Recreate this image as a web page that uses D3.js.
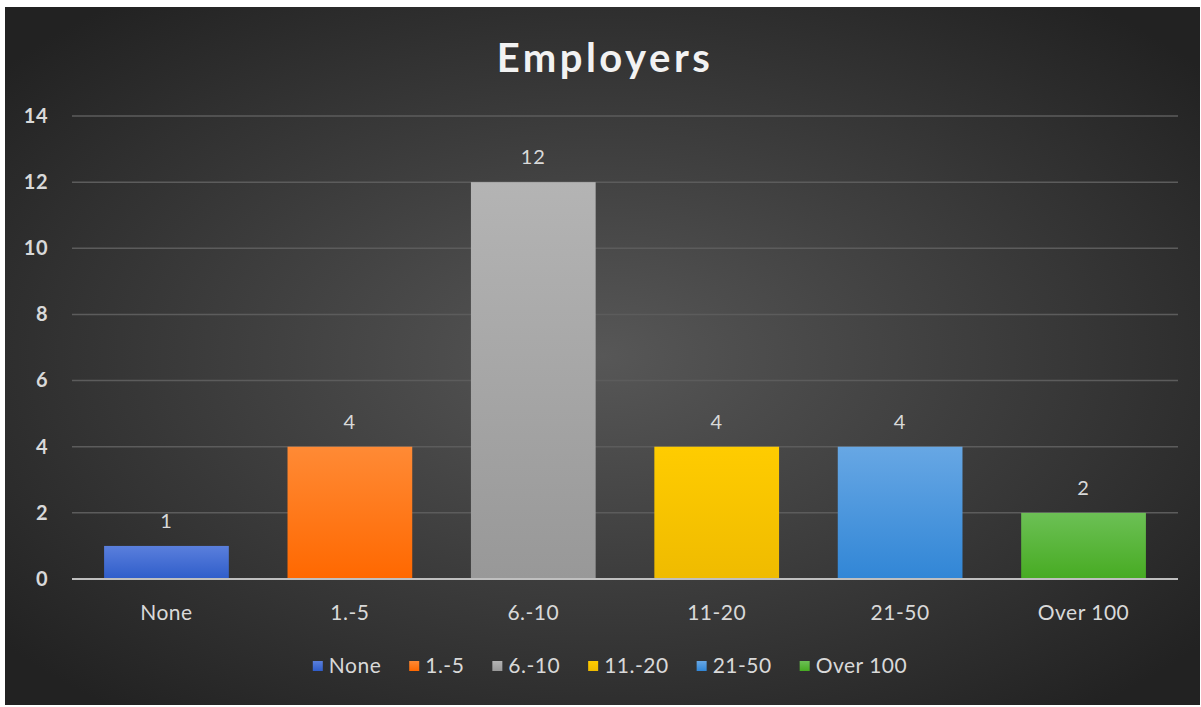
<!DOCTYPE html>
<html>
<head>
<meta charset="utf-8">
<script src="https://cdn.jsdelivr.net/npm/d3@7"></script>
<style>
  html, body { margin: 0; padding: 0; background: #ffffff; }
  svg { display: block; }
</style>
</head>
<body>
<svg id="chart" width="1201" height="707"></svg>
<script>
// values
const categories = ['None', '1.-5', '6.-10', '11.-20', '21-50', 'Over 100'];
const axisLabels = ['None', '1.-5', '6.-10', '11-20', '21-50', 'Over 100'];
const counts = [1, 4, 12, 4, 4, 2];
const yTicks = [0, 2, 4, 6, 8, 10, 12, 14];
const colorTop = ['#5a7fdc', '#ff8a35', '#b4b4b4', '#ffcc00', '#67a7e4', '#6cc055'];
const colorBottom = ['#2f5dca', '#ff6800', '#989898', '#efbb00', '#3186d6', '#47ab22'];

const svg = d3.select('#chart');
const width = +svg.attr('width');
const height = +svg.attr('height');
const margin = { top: 116, right: 23, bottom: 128, left: 72 };
const font = 'Lato, "Open Sans", sans-serif';

const defs = svg.append('defs');

// dark radial background
const bg = defs.append('radialGradient')
    .attr('id', 'bg')
    .attr('cx', '50%').attr('cy', '50%').attr('r', '65%');
bg.append('stop').attr('offset', '0%').attr('stop-color', '#575757');
bg.append('stop').attr('offset', '100%').attr('stop-color', '#222222');

svg.append('rect')
    .attr('x', 5).attr('y', 7)
    .attr('width', width - 6).attr('height', height - 9)
    .attr('fill', 'url(#bg)');

categories.forEach((c, i) => {
    const g = defs.append('linearGradient')
        .attr('id', 'bar' + i)
        .attr('x1', 0).attr('y1', 0).attr('x2', 0).attr('y2', 1);
    g.append('stop').attr('offset', '0%').attr('stop-color', colorTop[i]);
    g.append('stop').attr('offset', '100%').attr('stop-color', colorBottom[i]);
});

const x = d3.scaleBand()
    .domain(categories)
    .range([margin.left, width - margin.right])
    .paddingInner(0.32)
    .paddingOuter(0.175);

const y = d3.scaleLinear()
    .domain([0, 14])
    .range([height - margin.bottom, margin.top]);

// title
svg.append('text')
    .attr('x', 605)
    .attr('y', 72)
    .attr('text-anchor', 'middle')
    .attr('fill', '#f2f2f2')
    .attr('font-family', font)
    .attr('font-weight', 'bold')
    .attr('font-size', 40)
    .attr('letter-spacing', 3.5)
    .text('Employers');

// gridlines
svg.append('g')
    .selectAll('line')
    .data(yTicks.filter(t => t > 0))
    .enter().append('line')
    .attr('x1', margin.left)
    .attr('x2', width - margin.right)
    .attr('y1', d => y(d))
    .attr('y2', d => y(d))
    .attr('stroke', '#5c5c5c')
    .attr('stroke-width', 1.5);

// y axis
const yAxis = svg.append('g')
    .attr('transform', `translate(${margin.left}, 0)`)
    .call(d3.axisLeft(y).tickValues(yTicks).tickSize(0).tickPadding(24));
yAxis.select('.domain').remove();
yAxis.selectAll('text')
    .attr('fill', '#d9d9d9')
    .attr('font-family', font)
    .attr('font-weight', 'bold')
    .attr('font-size', 20)
    .attr('letter-spacing', 0.5);

// bars
svg.append('g')
    .selectAll('rect')
    .data(counts)
    .enter().append('rect')
    .attr('x', (d, i) => x(categories[i]))
    .attr('y', d => y(d))
    .attr('width', x.bandwidth())
    .attr('height', d => y(0) - y(d))
    .attr('fill', (d, i) => `url(#bar${i})`);

// baseline
svg.append('line')
    .attr('x1', margin.left)
    .attr('x2', width - margin.right)
    .attr('y1', y(0))
    .attr('y2', y(0))
    .attr('stroke', '#bfbfbf')
    .attr('stroke-width', 2);

// data labels
svg.append('g')
    .selectAll('text')
    .data(counts)
    .enter().append('text')
    .attr('x', (d, i) => x(categories[i]) + x.bandwidth() / 2)
    .attr('y', d => y(d) - 18)
    .attr('text-anchor', 'middle')
    .attr('fill', '#d9d9d9')
    .attr('font-family', font)
    .attr('font-size', 20)
    .attr('letter-spacing', 1)
    .text(d => d);

// x axis
const xAxis = svg.append('g')
    .attr('transform', `translate(0, ${y(0)})`)
    .call(d3.axisBottom(x).tickFormat((d, i) => axisLabels[i]).tickSize(0).tickPadding(26));
xAxis.select('.domain').remove();
xAxis.selectAll('text')
    .attr('fill', '#d9d9d9')
    .attr('font-family', font)
    .attr('font-size', 21)
    .attr('letter-spacing', 0.5);

// legend
const legend = svg.append('g');
const gap = 28;
let lx = 0;
categories.forEach((c, i) => {
    const item = legend.append('g').attr('transform', `translate(${lx}, 0)`);
    item.append('rect')
        .attr('x', 0).attr('y', -5)
        .attr('width', 10).attr('height', 10)
        .attr('fill', `url(#bar${i})`);
    const t = item.append('text')
        .attr('x', 16)
        .attr('y', 7)
        .attr('fill', '#d9d9d9')
        .attr('font-family', font)
        .attr('font-size', 21)
        .attr('letter-spacing', 0.5)
        .text(c);
    lx += 16 + t.node().getComputedTextLength() + gap;
});
lx -= gap;
legend.attr('transform', `translate(${610 - lx / 2}, 666)`);
</script>
</body>
</html>
